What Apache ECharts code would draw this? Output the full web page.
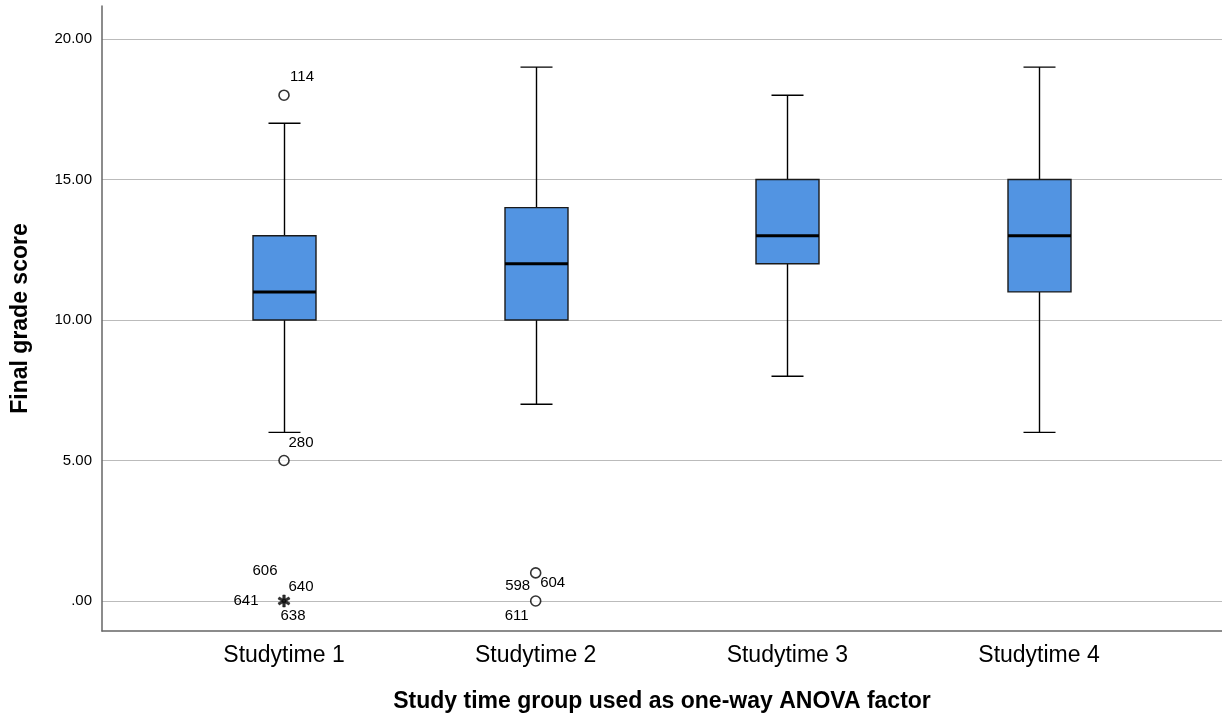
<!DOCTYPE html>
<html lang="en">
<head>
  <meta http-equiv="Content-Type" content="text/html; charset=UTF-8">
  <title>Final grade score by study time</title>
  <style>
    html, body {
      padding: 0;
      margin: 0;
      background: #fff;
    }
    #myChart {
      width: 1222px;
      height: 721px;
    }
  </style>
</head>
<body>
  <div id="myChart"></div>
  <script src="https://cdn.jsdelivr.net/npm/echarts@6/dist/echarts.min.js"></script>
  <script>
    const categories = ['Studytime 1', 'Studytime 2', 'Studytime 3', 'Studytime 4'];
    const lowWhisker = [6, 7, 8, 6];
    const q1 = [10, 10, 12, 11];
    const median = [11, 12, 13, 13];
    const q3 = [13, 14, 15, 15];
    const highWhisker = [17, 19, 18, 19];
    const yTicks = [0, 5, 10, 15, 20];

    // outliers: group index (1-based), value, kind, case ids
    const outlierGroup = [1, 1, 1, 2, 2];
    const outlierValue = [18, 5, 0, 1, 0];
    const outlierKind = ['mild', 'mild', 'extreme', 'mild', 'mild'];
    const outlierIds = [['114'], ['280'], ['606', '640', '641', '638'], ['604'], ['598', '611']];

    // where each case label sits relative to its point (px)
    const labelOffset = {
      '114': [18, -18], '280': [17, -18],
      '606': [-19, -30], '640': [17, -14], '641': [-38, 0], '638': [9, 15],
      '604': [17, 10], '598': [-18, -15], '611': [-19, 15]
    };

    const FONT = "'Liberation Sans', Arial, sans-serif";
    const starPath = 'path://M-1,-5L1,-5L1,5L-1,5Z M3.83,-3.366L4.83,-1.634L-3.83,3.366L-4.83,1.634Z M-4.83,-1.634L-3.83,-3.366L4.83,1.634L3.83,3.366Z';

    const boxData = categories.map((c, i) => [i + 1, lowWhisker[i], q1[i], median[i], q3[i], highWhisker[i]]);

    const markerData = outlierGroup.map((g, i) => ({
      value: [g, outlierValue[i]],
      symbol: outlierKind[i] === 'extreme' ? starPath : 'circle',
      symbolSize: outlierKind[i] === 'extreme' ? 12 : 10,
      itemStyle: outlierKind[i] === 'extreme'
        ? { color: '#000', borderColor: '#000', borderWidth: 0.6 }
        : { color: '#fff', borderColor: '#000', borderWidth: 1.6 }
    }));

    const labelData = [];
    outlierGroup.forEach((g, i) => {
      outlierIds[i].forEach(id => {
        labelData.push({ value: [g, outlierValue[i]], name: id });
      });
    });

    function renderBox(params, api) {
      const x = api.value(0);
      const lo = api.coord([x, api.value(1)]);
      const b1 = api.coord([x, api.value(2)]);
      const md = api.coord([x, api.value(3)]);
      const b3 = api.coord([x, api.value(4)]);
      const hi = api.coord([x, api.value(5)]);
      const cx = Math.round(lo[0]) + 0.5;
      const half = 31.5, cap = 16;
      const ls = { stroke: '#000', lineWidth: 1.4 };
      return {
        type: 'group',
        children: [
          { type: 'line', shape: { x1: cx, y1: hi[1], x2: cx, y2: b3[1] }, style: ls },
          { type: 'line', shape: { x1: cx, y1: b1[1], x2: cx, y2: lo[1] }, style: ls },
          { type: 'line', shape: { x1: cx - cap, y1: hi[1], x2: cx + cap, y2: hi[1] }, style: ls },
          { type: 'line', shape: { x1: cx - cap, y1: lo[1], x2: cx + cap, y2: lo[1] }, style: ls },
          {
            type: 'rect',
            shape: { x: cx - half, y: b3[1], width: half * 2, height: b1[1] - b3[1] },
            style: { fill: '#5294e2', stroke: '#1a1a1a', lineWidth: 1.4 }
          },
          { type: 'line', shape: { x1: cx - half, y1: md[1], x2: cx + half, y2: md[1] }, style: { stroke: '#000', lineWidth: 3 } }
        ]
      };
    }

    function renderCaseLabel(params, api) {
      const p = api.coord([api.value(0), api.value(1)]);
      const id = labelData[params.dataIndex].name;
      const off = labelOffset[id] || [0, 0];
      return {
        type: 'text',
        x: p[0] + off[0],
        y: p[1] + off[1],
        style: {
          text: id,
          fill: '#000',
          font: '15px ' + FONT,
          align: 'center',
          verticalAlign: 'middle'
        }
      };
    }

    const myChart = echarts.init(document.getElementById('myChart'));
    const option = {
      backgroundColor: '#fff',
      animation: false,
      textStyle: { fontFamily: FONT },
      grid: { left: 102, right: 0, top: 6, bottom: 90, containLabel: false },
      xAxis: {
        type: 'value',
        min: 0.2768,
        max: 4.727,
        name: 'Study time group used as one-way ANOVA factor',
        nameLocation: 'middle',
        nameGap: 59,
        nameTextStyle: { fontSize: 23, fontWeight: 'bold', color: '#000', fontFamily: FONT },
        axisLine: { show: true, onZero: false, lineStyle: { color: '#666', width: 1.5 } },
        axisTick: { show: false },
        splitLine: { show: false },
        axisLabel: {
          customValues: [1, 2, 3, 4],
          formatter: v => categories[Math.round(v) - 1] || '',
          fontSize: 23,
          color: '#000',
          margin: 13,
          fontFamily: FONT
        }
      },
      yAxis: {
        type: 'value',
        min: -1.0676,
        max: 21.174,
        name: 'Final grade score',
        nameLocation: 'middle',
        nameGap: 70,
        nameTextStyle: { fontSize: 23, fontWeight: 'bold', color: '#000', fontFamily: FONT },
        axisLine: { show: true, onZero: false, lineStyle: { color: '#666', width: 1.5 } },
        axisTick: { show: false, customValues: yTicks },
        splitLine: { show: true, lineStyle: { color: '#bbb', width: 1 } },
        axisLabel: {
          customValues: yTicks,
          formatter: v => (v === 0 ? '.00' : v.toFixed(2)),
          fontSize: 15,
          color: '#000',
          margin: 10,
          fontFamily: FONT
        }
      },
      series: [{
        type: 'custom',
        renderItem: renderBox,
        encode: { x: 0, y: [1, 2, 3, 4, 5] },
        data: boxData,
        z: 3
      }, {
        type: 'scatter',
        data: markerData,
        z: 4
      }, {
        type: 'custom',
        renderItem: renderCaseLabel,
        encode: { x: 0, y: 1 },
        data: labelData,
        z: 5
      }]
    };
    myChart.setOption(option);
  </script>
</body>
</html>
